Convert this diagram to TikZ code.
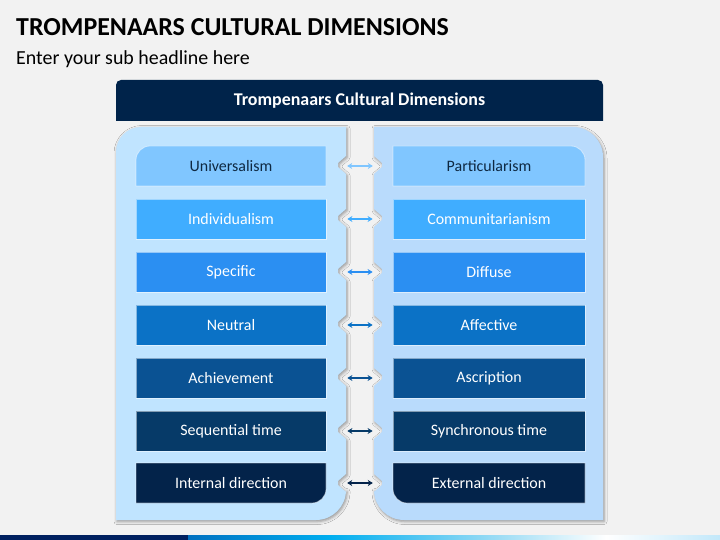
\documentclass[tikz,border=0pt]{standalone}
\usepackage{fontspec}
\setmainfont{Carlito}
\usetikzlibrary{arrows.meta,shadows.blur}
\definecolor{bgc}{HTML}{F2F2F2}
\definecolor{navy}{HTML}{00234A}
\definecolor{panelL}{HTML}{C0E4FF}
\definecolor{panelR}{HTML}{B9DBFC}
\definecolor{rc1}{HTML}{80C6FF}
\definecolor{rc2}{HTML}{40ADFF}
\definecolor{rc3}{HTML}{2B8FF2}
\definecolor{rc4}{HTML}{0B72C6}
\definecolor{rc5}{HTML}{0A5293}
\definecolor{rc6}{HTML}{063A68}
\definecolor{rc7}{HTML}{03234A}
\definecolor{tdark}{HTML}{0E2841}
\definecolor{barA}{HTML}{002060}
\definecolor{barB}{HTML}{0070C0}
\definecolor{barC}{HTML}{00AEEF}
\definecolor{barD}{HTML}{9EDDF5}
\definecolor{barE}{HTML}{C2E8FA}
\begin{document}
\begin{tikzpicture}[x=1bp,y=-1bp,
  boxL/.style={minimum width=190bp, minimum height=40bp, inner sep=0pt, font=\fontsize{16}{19}\selectfont, text=white},
  boxR/.style={boxL, minimum width=192bp},
  boxfill/.style={fill=#1, draw=white, draw opacity=0.5, line width=0.8bp},
  link/.style={{Stealth[length=5bp,width=6bp]}-{Stealth[length=5bp,width=6bp]}, line width=1.5bp, shorten <=21bp, shorten >=20bp},
  panelshadow/.style={blur shadow={shadow xshift=1bp, shadow yshift=-1.5bp, shadow blur radius=3bp, shadow opacity=40}}
]
\useasboundingbox (0,0) rectangle (720,540);
\fill[bgc] (0,0) rectangle (720,540);

% title
\node[anchor=base west, inner sep=0pt, font=\bfseries\fontsize{26}{30}\selectfont] (title) at (16,36) {TROMPENAARS CULTURAL DIMENSIONS};
\node[anchor=base west, inner sep=0pt, font=\fontsize{20}{24}\selectfont] (sub) at (16,65) {Enter your sub headline here};

% header bar
\fill[navy] (116,121) -- (116,85) arc[start angle=180,end angle=270,radius=5] -- (598,80) arc[start angle=270,end angle=360,radius=5] -- (603,121) -- cycle;
\node[text=white, font=\bfseries\fontsize{18}{21}\selectfont] (head) at (359.5,100.5) {Trompenaars Cultural Dimensions};

% panels
\fill[panelL, panelshadow] (116,520) -- (116,152) arc[start angle=180,end angle=270,radius=25] -- (346,127)
  \foreach \c in {165,218,...,483} { -- (346,\c-9) -- (338,\c-2) -- (338,\c+2) -- (346,\c+9) }
  -- (346,490) arc[start angle=0,end angle=90,radius=30] -- cycle;
\fill[panelR, panelshadow] (374,127) -- (573,127) arc[start angle=270,end angle=360,radius=30] -- (603,520) -- (404,520) arc[start angle=90,end angle=180,radius=30]
  \foreach \c in {483,430,...,165} { -- (374,\c+9) -- (382,\c+2) -- (382,\c-2) -- (374,\c-9) }
  -- cycle;

% special-corner boxes
\path[boxfill=rc1] (136,186) -- (136,160) arc[start angle=180,end angle=270,radius=14] -- (326,146) -- (326,186) -- cycle;
\path[boxfill=rc1] (393,146) -- (571,146) arc[start angle=270,end angle=360,radius=14] -- (585,186) -- (393,186) -- cycle;
\path[boxfill=rc7] (136,463) -- (326,463) -- (326,489) arc[start angle=0,end angle=90,radius=14] -- (136,503) -- cycle;
\path[boxfill=rc7] (393,463) -- (585,463) -- (585,503) -- (407,503) arc[start angle=90,end angle=180,radius=14] -- cycle;

\node[boxL, text=tdark] (L1) at (231,166) {Universalism};
\node[boxR, text=tdark] (R1) at (489,166) {Particularism};
\node[boxL, boxfill=rc2] (L2) at (231,219) {Individualism};
\node[boxR, boxfill=rc2] (R2) at (489,219) {Communitarianism};
\node[boxL, boxfill=rc3] (L3) at (231,272) {Specific};
\node[boxR, boxfill=rc3] (R3) at (489,272) {Diffuse};
\node[boxL, boxfill=rc4] (L4) at (231,325) {Neutral};
\node[boxR, boxfill=rc4] (R4) at (489,325) {Affective};
\node[boxL, boxfill=rc5] (L5) at (231,378) {Achievement};
\node[boxR, boxfill=rc5] (R5) at (489,378) {Ascription};
\node[boxL, boxfill=rc6] (L6) at (231,431) {Sequential time};
\node[boxR, boxfill=rc6] (R6) at (489,431) {Synchronous time};
\node[boxL] (L7) at (231,483) {Internal direction};
\node[boxR] (R7) at (489,483) {External direction};

% arrows
\draw[link, rc1] (L1) -- (R1);
\draw[link, rc2] (L2) -- (R2);
\draw[link, rc3] (L3) -- (R3);
\draw[link, rc4] (L4) -- (R4);
\draw[link, rc5] (L5) -- (R5);
\draw[link, rc6] (L6) -- (R6);
\draw[link, rc7] (L7) -- (R7);

% bottom bar
\fill[barA] (0,535) rectangle (188,540);
\shade[left color=barB, right color=barC] (188,535) rectangle (330,540);
\shade[left color=barC, right color=barD] (330,535) rectangle (500,540);
\shade[left color=barD, right color=white] (500,535) rectangle (606,540);
\shade[left color=white, right color=barE] (606,535) rectangle (720,540);
\end{tikzpicture}
\end{document}
